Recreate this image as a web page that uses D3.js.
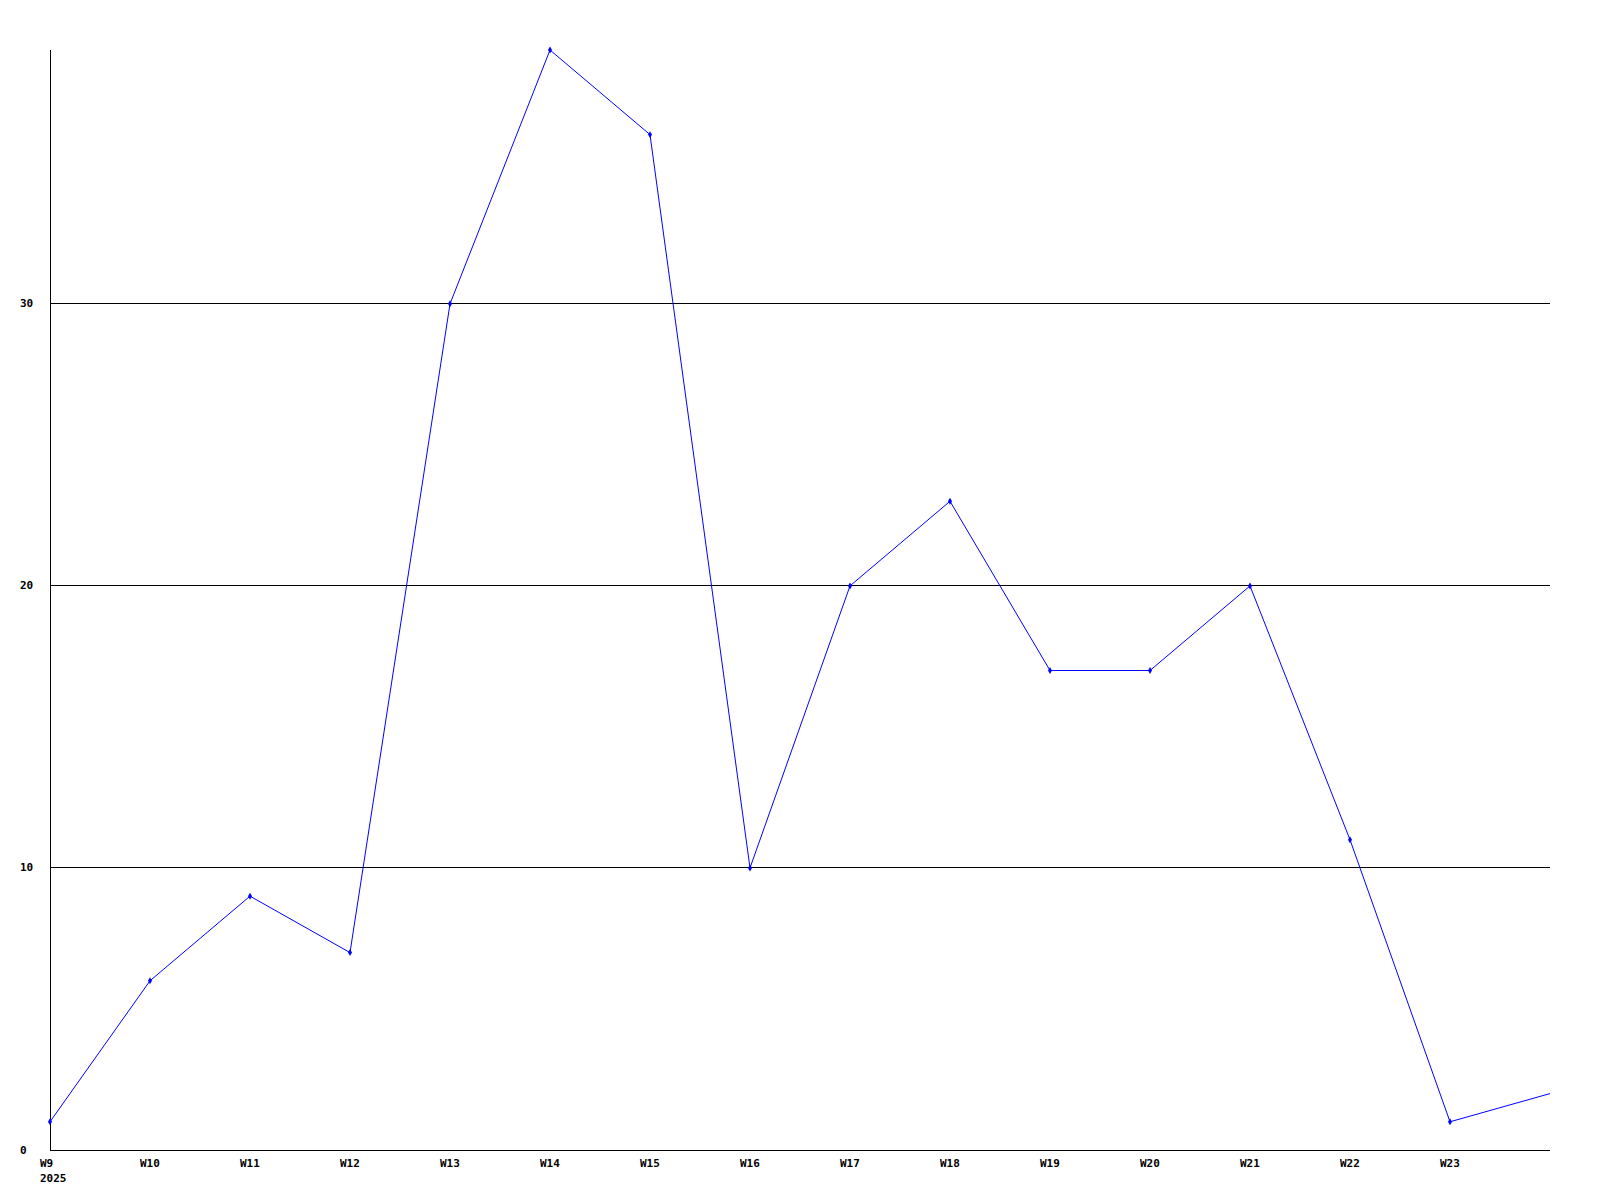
<!DOCTYPE html>
<html><head><meta charset="utf-8">
<script src="https://cdn.jsdelivr.net/npm/d3@7"></script>
<style>body{margin:0;background:#fff}svg{display:block}text{font-family:"DejaVu Sans Mono",monospace;font-weight:bold;font-size:11px;fill:#000}</style>
</head><body><svg id="c" width="1600" height="1200"></svg>
<script>
const weeks = ["W9","W10","W11","W12","W13","W14","W15","W16","W17","W18","W19","W20","W21","W22","W23","W24"];
const values = [1,6,9,7,30,39,36,10,20,23,17,17,20,11,1,2];
const yTicks = [0,10,20,30];
const yearLabel = "2025";

const svg = d3.select("#c");
const x = d3.scalePoint().domain(weeks).range([50,1550]);
const y = d3.scaleLinear().domain([0,39]).range([1150,50]);

// gridlines
svg.append("g").selectAll("line").data(yTicks.filter(d=>d>0)).join("line")
  .attr("x1",50).attr("x2",1550)
  .attr("y1",d=>Math.floor(y(d))+0.5).attr("y2",d=>Math.floor(y(d))+0.5)
  .attr("stroke","#000").attr("stroke-width",1).attr("shape-rendering","crispEdges");
// axes
svg.append("line").attr("x1",50.5).attr("x2",50.5).attr("y1",50).attr("y2",1150).attr("stroke","#000").attr("shape-rendering","crispEdges");
svg.append("line").attr("x1",50).attr("x2",1550).attr("y1",1150.5).attr("y2",1150.5).attr("stroke","#000").attr("shape-rendering","crispEdges");

// y labels
svg.append("g").selectAll("text").data(yTicks).join("text")
  .attr("x",20).attr("y",d=>Math.floor(y(d))+4).text(d=>d);
// x labels (all but last)
svg.append("g").selectAll("text").data(weeks.slice(0,-1)).join("text")
  .attr("x",d=>x(d)-10).attr("y",1167).text(d=>d);
svg.append("text").attr("x",40).attr("y",1182).text(yearLabel);

// line
const line = d3.line().x((d,i)=>x(weeks[i])).y(d=>y(d));
svg.append("path").datum(values).attr("d",line).attr("fill","none").attr("stroke","#0000ff").attr("stroke-width",1);
// markers
svg.append("g").selectAll("path").data(values.slice(0,-1)).join("path")
  .attr("d",d3.symbol(d3.symbolDiamond,14))
  .attr("transform",(d,i)=>`translate(${x(weeks[i])},${y(d)})`)
  .attr("fill","#0000ff");
</script></body></html>
